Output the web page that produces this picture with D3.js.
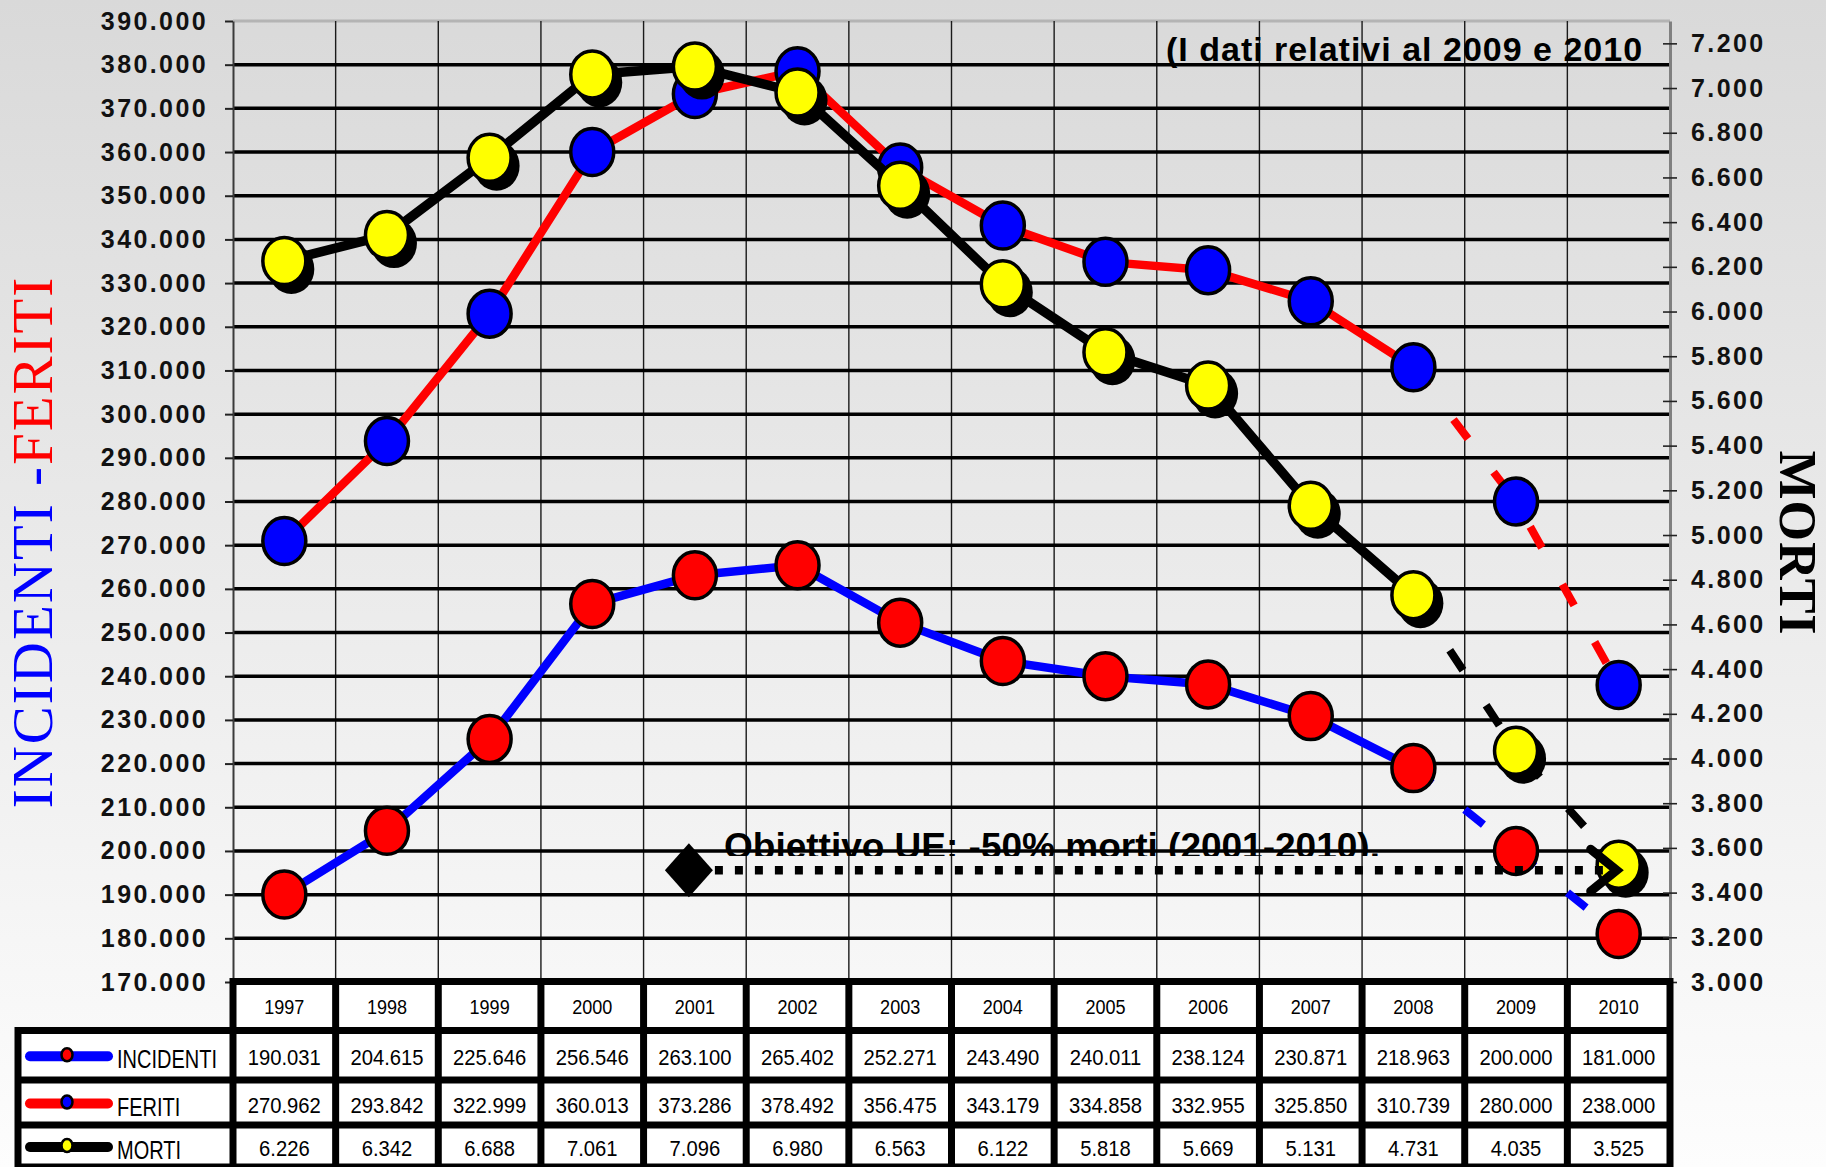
<!DOCTYPE html>
<html>
<head>
<meta charset="utf-8">
<script src="https://cdn.jsdelivr.net/npm/d3@7"></script>
<style>
  html, body { margin: 0; padding: 0; overflow: hidden; background: #fff; }
  svg { display: block; }
</style>
</head>
<body>
<svg id="chart" width="1826" height="1167"></svg>
<script>
// Road accidents in Italy, 1997-2010 (2009 and 2010 are estimates)
const years     = [1997, 1998, 1999, 2000, 2001, 2002, 2003, 2004, 2005, 2006, 2007, 2008, 2009, 2010];
const incidenti = [190031, 204615, 225646, 256546, 263100, 265402, 252271, 243490, 240011, 238124, 230871, 218963, 200000, 181000];
const feriti    = [270962, 293842, 322999, 360013, 373286, 378492, 356475, 343179, 334858, 332955, 325850, 310739, 280000, 238000];
const morti     = [6226, 6342, 6688, 7061, 7096, 6980, 6563, 6122, 5818, 5669, 5131, 4731, 4035, 3525];
const lastObservedYear = 2008;

const leftTicks  = d3.range(170000, 390001, 10000);
const rightTicks = d3.range(3000, 7201, 200);

// EU target: halve road deaths between 2001 and 2010
const objectiveYears = [2001, 2010];
const objectiveValue = 3500;
const objectiveLabel = "Obiettivo UE: -50% morti (2001-2010).";
const noteLabel = "(I dati relativi al 2009 e 2010";

const W = 1826, H = 1167;
const plot = { left: 233, right: 1670, top: 21, bottom: 982 };
const sans = "'Liberation Sans', Arial, Helvetica, sans-serif";
const serif = "'Liberation Serif', 'Times New Roman', serif";

const fmt = d3.formatLocale({ decimal: ",", thousands: ".", grouping: [3], currency: ["", " €"] }).format(",");

const svg = d3.select("#chart");
const defs = svg.append("defs");

const grad = defs.append("linearGradient").attr("id", "bg")
  .attr("x1", 0).attr("y1", 0).attr("x2", 0).attr("y2", 1);
grad.append("stop").attr("offset", "0%").attr("stop-color", "#d9d9d9");
grad.append("stop").attr("offset", "100%").attr("stop-color", "#fdfdfd");

defs.append("clipPath").attr("id", "labelClip")
  .append("rect").attr("x", 0).attr("y", 0).attr("width", W).attr("height", 856);

svg.append("rect").attr("width", W).attr("height", H).attr("fill", "url(#bg)");

// Scales
const x = d3.scaleBand().domain(years).range([plot.left, plot.right]);
const cx = d => x(d) + x.bandwidth() / 2;
const yL = d3.scaleLinear().domain([170000, 390000]).range([plot.bottom, plot.top]);
const yR = d3.scaleLinear().domain([3000, 7300]).range([plot.bottom, plot.top]);

// Plot frame top edge
svg.append("line")
  .attr("x1", plot.left).attr("x2", plot.right)
  .attr("y1", plot.top).attr("y2", plot.top)
  .attr("stroke", "#b4b4b4").attr("stroke-width", 3);

// Vertical gridlines between years
svg.append("g").selectAll("line")
  .data(years.slice(1))
  .join("line")
  .attr("x1", d => x(d)).attr("x2", d => x(d))
  .attr("y1", plot.top).attr("y2", plot.bottom)
  .attr("stroke", "#1a1a1a").attr("stroke-width", 1.4);

// Objective label (sits behind the gridlines, its lower edge clipped)
svg.append("text")
  .attr("clip-path", "url(#labelClip)")
  .attr("x", 724).attr("y", 859)
  .attr("font-family", sans).attr("font-weight", "bold").attr("font-size", 37)
  .attr("fill", "#000")
  .text(objectiveLabel);

// Horizontal gridlines
svg.append("g").selectAll("line")
  .data(leftTicks.filter(t => t > 170000 && t < 390000))
  .join("line")
  .attr("x1", plot.left).attr("x2", plot.right)
  .attr("y1", d => yL(d)).attr("y2", d => yL(d))
  .attr("stroke", "#000").attr("stroke-width", 3.5);

// Left axis
const axL = svg.append("g")
  .attr("transform", `translate(${plot.left},0)`)
  .call(d3.axisLeft(yL).tickValues(leftTicks).tickFormat(fmt)
    .tickSizeInner(8).tickSizeOuter(0).tickPadding(17));
axL.select(".domain").attr("stroke", "#3a3a3a").attr("stroke-width", 2);
axL.selectAll(".tick line").attr("stroke", "#222").attr("stroke-width", 2);
axL.selectAll(".tick text")
  .attr("font-family", sans).attr("font-size", 25).attr("font-weight", "bold")
  .attr("letter-spacing", "2.4px").attr("fill", "#111");

// Right axis
const axR = svg.append("g")
  .attr("transform", `translate(${plot.right},0)`)
  .call(d3.axisRight(yR).tickValues(rightTicks).tickFormat(fmt)
    .tickSizeInner(7).tickSizeOuter(0).tickPadding(14));
axR.select(".domain").attr("stroke", "#808080").attr("stroke-width", 3);
axR.selectAll(".tick line").attr("stroke", "#222").attr("stroke-width", 1.6)
  .attr("x1", -7);
axR.selectAll(".tick text")
  .attr("font-family", sans).attr("font-size", 25).attr("font-weight", "bold")
  .attr("letter-spacing", "2.4px").attr("fill", "#111");

// Axis titles
const leftTitle = svg.append("text")
  .attr("transform", "translate(52,542) rotate(-90)")
  .attr("text-anchor", "middle")
  .attr("font-family", serif).attr("font-size", 57)
  .attr("letter-spacing", "2px");
leftTitle.append("tspan").attr("fill", "#0000ff").text("INCIDENTI -");
leftTitle.append("tspan").attr("fill", "#ff0000").text("FERITI");

svg.append("text")
  .attr("transform", "translate(1780,543) rotate(90)")
  .attr("text-anchor", "middle")
  .attr("font-family", serif).attr("font-size", 52).attr("font-weight", "bold")
  .attr("letter-spacing", "1px")
  .attr("fill", "#000")
  .text("MORTI");

// Note about estimated years
svg.append("text")
  .attr("x", 1166).attr("y", 61)
  .attr("font-family", sans).attr("font-weight", "bold").attr("font-size", 34)
  .attr("letter-spacing", "1px")
  .attr("fill", "#000")
  .text(noteLabel);

// Series
const series = [
  { name: "INCIDENTI", values: incidenti, y: yL, line: "#0000ff", marker: "#ff0000", shadow: false, width: 8.5 },
  { name: "FERITI",    values: feriti,    y: yL, line: "#ff0000", marker: "#0000ff", shadow: false, width: 8.5 },
  { name: "MORTI",     values: morti,     y: yR, line: "#000000", marker: "#ffff00", shadow: true,  width: 9.5 }
];

const RX = 21.5, RY = 23.5;

series.forEach(s => {
  const pts = years.map((yr, i) => ({ year: yr, value: s.values[i] }));
  const line = d3.line().x(d => cx(d.year)).y(d => s.y(d.value));
  const g = svg.append("g").attr("class", "series-" + s.name.toLowerCase());

  g.append("path")
    .attr("d", line(pts.filter(d => d.year <= lastObservedYear)))
    .attr("fill", "none").attr("stroke", s.line)
    .attr("stroke-width", s.width).attr("stroke-linejoin", "round");

  g.append("path")
    .attr("d", line(pts.filter(d => d.year >= lastObservedYear)))
    .attr("fill", "none").attr("stroke", s.line)
    .attr("stroke-width", 8).attr("stroke-dasharray", "24,42");

  if (s.shadow) {
    g.append("g").selectAll("ellipse")
      .data(pts).join("ellipse")
      .attr("cx", d => cx(d.year) + 7).attr("cy", d => s.y(d.value) + 8)
      .attr("rx", RX + 1.5).attr("ry", RY + 1.5)
      .attr("fill", "#000");
  }

  g.append("g").selectAll("ellipse")
    .data(pts).join("ellipse")
    .attr("cx", d => cx(d.year)).attr("cy", d => s.y(d.value))
    .attr("rx", RX).attr("ry", RY)
    .attr("fill", s.marker).attr("stroke", "#000").attr("stroke-width", 3.5);
});

// Objective line: diamond at the start year, dotted line, open arrowhead at the end year
const objY = yR(objectiveValue);
const x0 = cx(objectiveYears[0]), x1 = cx(objectiveYears[1]);
const obj = svg.append("g");
obj.append("line")
  .attr("x1", x0).attr("x2", x1 - 4)
  .attr("y1", objY).attr("y2", objY)
  .attr("stroke", "#000").attr("stroke-width", 8.5)
  .attr("stroke-dasharray", "8,12");
obj.append("path")
  .attr("d", `M${x0 - 30},${objY} L${x0 - 6},${objY - 27} L${x0 + 18},${objY} L${x0 - 6},${objY + 27} Z`)
  .attr("fill", "#000");
obj.append("path")
  .attr("d", `M${x1 - 28},${objY - 21} L${x1 - 2},${objY} L${x1 - 28},${objY + 21}`)
  .attr("fill", "none").attr("stroke", "#000").attr("stroke-width", 9)
  .attr("stroke-linecap", "round").attr("stroke-linejoin", "miter");

// Data table
const tableTop = 981.5;
const rowBounds = [1030.5, 1080, 1125, 1167];
const legendLeft = 18;
const half = 3.5;
const colBounds = years.map(d => x(d)).concat([plot.right]);
const table = svg.append("g");

table.append("rect")
  .attr("x", plot.left - half).attr("y", tableTop - half)
  .attr("width", plot.right - plot.left + 2 * half).attr("height", H - tableTop + half)
  .attr("fill", "#000");
table.append("rect")
  .attr("x", legendLeft - half).attr("y", rowBounds[0] - half)
  .attr("width", plot.left - legendLeft + half).attr("height", H - rowBounds[0] + half)
  .attr("fill", "#000");

// Header cells with the years
years.forEach((yr, i) => {
  table.append("rect")
    .attr("x", colBounds[i] + half).attr("y", tableTop + half)
    .attr("width", colBounds[i + 1] - colBounds[i] - 2 * half)
    .attr("height", rowBounds[0] - tableTop - 2 * half)
    .attr("fill", "#fff");
  table.append("text")
    .attr("transform", `translate(${cx(yr)},${(tableTop + rowBounds[0]) / 2 + 7.5}) scale(0.86,1)`)
    .attr("text-anchor", "middle")
    .attr("font-family", sans).attr("font-size", 21).attr("fill", "#000")
    .text(yr);
});

// Value rows with legend keys
series.forEach((s, j) => {
  const top = rowBounds[j], bottom = rowBounds[j + 1];
  const mid = (top + bottom) / 2;
  table.append("rect")
    .attr("x", legendLeft + half).attr("y", top + half)
    .attr("width", plot.left - legendLeft - 2 * half).attr("height", bottom - top - 2 * half)
    .attr("fill", "#fff");
  years.forEach((yr, i) => {
    table.append("rect")
      .attr("x", colBounds[i] + half).attr("y", top + half)
      .attr("width", colBounds[i + 1] - colBounds[i] - 2 * half)
      .attr("height", bottom - top - 2 * half)
      .attr("fill", "#fff");
    table.append("text")
      .attr("transform", `translate(${cx(yr)},${mid + 10}) scale(0.92,1)`)
      .attr("text-anchor", "middle")
      .attr("font-family", sans).attr("font-size", 22).attr("fill", "#000")
      .text(fmt(s.values[i]));
  });
  const keyY = mid + 1;
  table.append("line")
    .attr("x1", 30).attr("x2", 108).attr("y1", keyY).attr("y2", keyY)
    .attr("stroke", s.line).attr("stroke-width", 10).attr("stroke-linecap", "round");
  table.append("ellipse")
    .attr("cx", 67).attr("cy", keyY - 1.5).attr("rx", 5.5).attr("ry", 6.5)
    .attr("fill", s.marker).attr("stroke", "#000").attr("stroke-width", 2.5);
  table.append("text")
    .attr("transform", `translate(117,${mid + 13}) scale(0.8,1)`)
    .attr("font-family", sans).attr("font-size", 25).attr("fill", "#000")
    .text(s.name);
});
</script>
</body>
</html>
